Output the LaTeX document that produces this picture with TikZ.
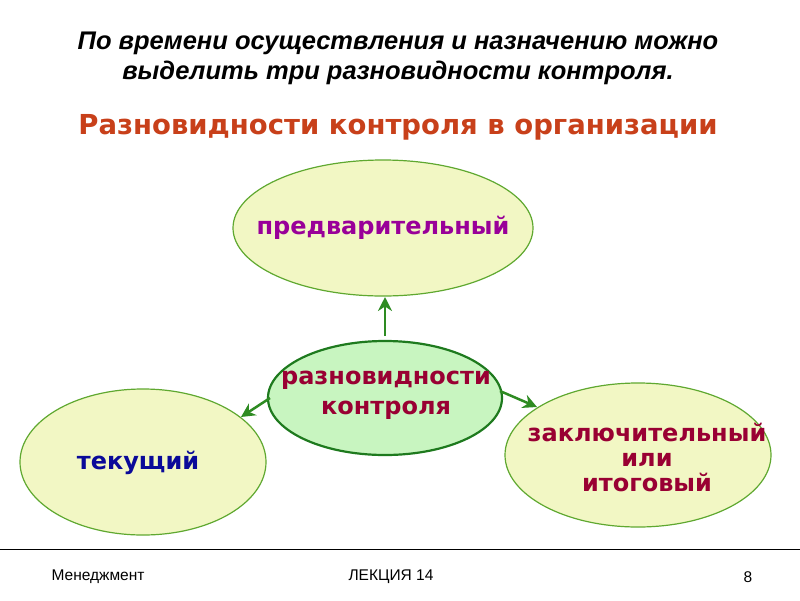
\documentclass[tikz,border=0pt]{standalone}
\usepackage{fontspec}
\setmainfont{Liberation Sans}
\newfontfamily\tah{DejaVu Sans}
\usetikzlibrary{shapes.geometric,arrows.meta}
\definecolor{ellfill}{HTML}{F2F7C4}
\definecolor{ellline}{HTML}{5FA830}
\definecolor{cenfill}{HTML}{C8F5C0}
\definecolor{cenline}{HTML}{1E7A1E}
\definecolor{subt}{HTML}{C8401A}
\definecolor{purp}{HTML}{990099}
\definecolor{dred}{HTML}{990033}
\definecolor{dblue}{HTML}{0A0A99}
\definecolor{arr}{HTML}{2E8B22}
\tikzset{
 ell/.style={ellipse,draw=ellline,line width=1.2pt,fill=ellfill,inner sep=0pt},
 cen/.style={ellipse,draw=cenline,line width=2.2pt,fill=cenfill,inner sep=0pt},
 lbl/.style={font=\tah\bfseries\fontsize{24}{26}\selectfont,align=center},
 conn/.style={draw=arr,line width=2.5pt,-{Stealth[length=14pt,width=14pt]}},
 foot/.style={font=\fontsize{15.5}{17}\selectfont}
}
\begin{document}
\begin{tikzpicture}[x=1pt,y=-1pt]
\useasboundingbox (0,0) rectangle (800,600);
\node[font=\bfseries\itshape\fontsize{25.5}{30}\selectfont,align=center] (title) at (398,58) {По времени осуществления и назначению можно\\выделить три разновидности контроля.};
\node[font=\tah\bfseries\fontsize{27.5}{30}\selectfont,text=subt] (sub) at (398,127) {Разновидности контроля в организации};
\node[ell,minimum width=300pt,minimum height=136pt] (top) at (383,228) {};
\node[lbl,text=purp] at (383,228) {предварительный};
\node[ell,minimum width=246pt,minimum height=146pt] (left) at (143,462) {};
\node[lbl,text=dblue] at (138,463) {текущий};
\node[ell,minimum width=266pt,minimum height=144pt] (right) at (638,455) {};
\node[lbl,text=dred,font=\tah\bfseries\fontsize{24}{25}\selectfont] at (647,457) {заключительный\\или\\итоговый};
\node[cen,minimum width=234pt,minimum height=114pt] (cen) at (385,398) {};
\node[lbl,text=dred,font=\tah\bfseries\fontsize{24}{30}\selectfont] at (386,395) {разновидности\\контроля};
\coordinate (t1) at (385,336); \coordinate (t2) at (385,297);
\coordinate (l1) at (270,398); \coordinate (l2) at (241,417);
\coordinate (r1) at (500,391); \coordinate (r2) at (537,407);
\draw[conn] (t1) -- (t2);
\draw[conn] (l1) -- (l2);
\draw[conn] (r1) -- (r2);
\coordinate (f1) at (0,549); \coordinate (f2) at (800,549);
\draw[line width=0.8pt] (f1) -- (f2);
\node[foot] (m) at (98,577) {Менеджмент};
\node[foot] (lec) at (391,577) {ЛЕКЦИЯ 14};
\node[foot] (pg) at (748,577) {8};
\end{tikzpicture}
\end{document}
